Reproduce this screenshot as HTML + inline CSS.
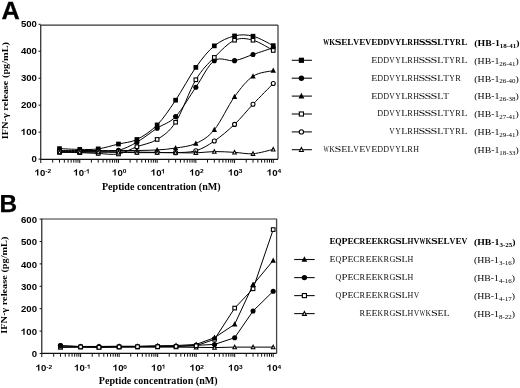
<!DOCTYPE html><html><head><meta charset="utf-8"><style>html,body{margin:0;padding:0;background:#fff}svg{display:block;will-change:transform}</style></head><body>
<svg width="520" height="388" viewBox="0 0 520 388">
<rect width="520" height="388" fill="#fff"/>
<text transform="translate(1.5,18.6) scale(1.02,1)" font-family="Liberation Sans" font-weight="bold" text-rendering="geometricPrecision" font-size="24.8" stroke="#000" stroke-width="0.3">A</text>
<text transform="translate(-0.47,212.4) scale(1,1)" font-family="Liberation Sans" font-weight="bold" font-size="24.4" stroke="#000" stroke-width="0.25">B</text>
<path d="M40.75,25.1 H278" stroke="#333" stroke-width="1.2" fill="none"/>
<path d="M278,24.9 V159.35" stroke="#444" stroke-width="1.3" fill="none"/>
<path d="M40.75,24.9 V159.35 H278" stroke="#111" stroke-width="1.1" fill="none"/>
<path d="M38.55,159.1 H40.75" stroke="#111" stroke-width="1"/>
<text transform="translate(31.61,161.97) scale(1,0.95)" font-family="Liberation Sans" font-weight="bold" font-size="9.6" fill="#000">0</text>
<path d="M38.55,132.14 H40.75" stroke="#111" stroke-width="1"/>
<path transform="translate(20.94,135.01) scale(9.6,-9.12)" d="M0.378,0 L0.244,0 L0.244,0.504 C0.195,0.459 0.122,0.420 0.047,0.396 L0.047,0.517 C0.088,0.530 0.132,0.553 0.181,0.586 C0.230,0.620 0.264,0.652 0.283,0.688 L0.378,0.688 Z" fill="#000"/><text transform="translate(26.27,135.01) scale(1,0.95)" font-family="Liberation Sans" font-weight="bold" font-size="9.6" fill="#000">00</text>
<path d="M38.55,105.18 H40.75" stroke="#111" stroke-width="1"/>
<text transform="translate(20.94,108.05) scale(1,0.95)" font-family="Liberation Sans" font-weight="bold" font-size="9.6" fill="#000">200</text>
<path d="M38.55,78.22 H40.75" stroke="#111" stroke-width="1"/>
<text transform="translate(20.94,81.09) scale(1,0.95)" font-family="Liberation Sans" font-weight="bold" font-size="9.6" fill="#000">300</text>
<path d="M38.55,51.26 H40.75" stroke="#111" stroke-width="1"/>
<text transform="translate(20.94,54.13) scale(1,0.95)" font-family="Liberation Sans" font-weight="bold" font-size="9.6" fill="#000">400</text>
<path d="M38.55,24.3 H40.75" stroke="#111" stroke-width="1"/>
<text transform="translate(20.94,27.17) scale(1,0.95)" font-family="Liberation Sans" font-weight="bold" font-size="9.6" fill="#000">500</text>
<path d="M40.75,159.35 V163.05" stroke="#111" stroke-width="1"/>
<path d="M52.7,159.35 V162.65" stroke="#111" stroke-width="1"/>
<path d="M59.51,159.35 V162.65" stroke="#111" stroke-width="1"/>
<path d="M64.35,159.35 V162.65" stroke="#111" stroke-width="1"/>
<path d="M68.1,159.35 V162.65" stroke="#111" stroke-width="1"/>
<path d="M71.16,159.35 V162.65" stroke="#111" stroke-width="1"/>
<path d="M73.76,159.35 V162.65" stroke="#111" stroke-width="1"/>
<path d="M76,159.35 V162.65" stroke="#111" stroke-width="1"/>
<path d="M77.98,159.35 V162.65" stroke="#111" stroke-width="1"/>
<path d="M79.75,159.35 V163.05" stroke="#111" stroke-width="1"/>
<path d="M91.4,159.35 V162.65" stroke="#111" stroke-width="1"/>
<path d="M98.21,159.35 V162.65" stroke="#111" stroke-width="1"/>
<path d="M103.05,159.35 V162.65" stroke="#111" stroke-width="1"/>
<path d="M106.8,159.35 V162.65" stroke="#111" stroke-width="1"/>
<path d="M109.86,159.35 V162.65" stroke="#111" stroke-width="1"/>
<path d="M112.46,159.35 V162.65" stroke="#111" stroke-width="1"/>
<path d="M114.7,159.35 V162.65" stroke="#111" stroke-width="1"/>
<path d="M116.68,159.35 V162.65" stroke="#111" stroke-width="1"/>
<path d="M118.45,159.35 V163.05" stroke="#111" stroke-width="1"/>
<path d="M130.1,159.35 V162.65" stroke="#111" stroke-width="1"/>
<path d="M136.91,159.35 V162.65" stroke="#111" stroke-width="1"/>
<path d="M141.75,159.35 V162.65" stroke="#111" stroke-width="1"/>
<path d="M145.5,159.35 V162.65" stroke="#111" stroke-width="1"/>
<path d="M148.56,159.35 V162.65" stroke="#111" stroke-width="1"/>
<path d="M151.16,159.35 V162.65" stroke="#111" stroke-width="1"/>
<path d="M153.4,159.35 V162.65" stroke="#111" stroke-width="1"/>
<path d="M155.38,159.35 V162.65" stroke="#111" stroke-width="1"/>
<path d="M157.15,159.35 V163.05" stroke="#111" stroke-width="1"/>
<path d="M168.8,159.35 V162.65" stroke="#111" stroke-width="1"/>
<path d="M175.61,159.35 V162.65" stroke="#111" stroke-width="1"/>
<path d="M180.45,159.35 V162.65" stroke="#111" stroke-width="1"/>
<path d="M184.2,159.35 V162.65" stroke="#111" stroke-width="1"/>
<path d="M187.26,159.35 V162.65" stroke="#111" stroke-width="1"/>
<path d="M189.86,159.35 V162.65" stroke="#111" stroke-width="1"/>
<path d="M192.1,159.35 V162.65" stroke="#111" stroke-width="1"/>
<path d="M194.08,159.35 V162.65" stroke="#111" stroke-width="1"/>
<path d="M195.85,159.35 V163.05" stroke="#111" stroke-width="1"/>
<path d="M207.5,159.35 V162.65" stroke="#111" stroke-width="1"/>
<path d="M214.31,159.35 V162.65" stroke="#111" stroke-width="1"/>
<path d="M219.15,159.35 V162.65" stroke="#111" stroke-width="1"/>
<path d="M222.9,159.35 V162.65" stroke="#111" stroke-width="1"/>
<path d="M225.96,159.35 V162.65" stroke="#111" stroke-width="1"/>
<path d="M228.56,159.35 V162.65" stroke="#111" stroke-width="1"/>
<path d="M230.8,159.35 V162.65" stroke="#111" stroke-width="1"/>
<path d="M232.78,159.35 V162.65" stroke="#111" stroke-width="1"/>
<path d="M234.55,159.35 V163.05" stroke="#111" stroke-width="1"/>
<path d="M246.2,159.35 V162.65" stroke="#111" stroke-width="1"/>
<path d="M253.01,159.35 V162.65" stroke="#111" stroke-width="1"/>
<path d="M257.85,159.35 V162.65" stroke="#111" stroke-width="1"/>
<path d="M261.6,159.35 V162.65" stroke="#111" stroke-width="1"/>
<path d="M264.66,159.35 V162.65" stroke="#111" stroke-width="1"/>
<path d="M267.26,159.35 V162.65" stroke="#111" stroke-width="1"/>
<path d="M269.5,159.35 V162.65" stroke="#111" stroke-width="1"/>
<path d="M271.48,159.35 V162.65" stroke="#111" stroke-width="1"/>
<path d="M273.25,159.35 V163.05" stroke="#111" stroke-width="1"/>
<path transform="translate(34.71,175.5) scale(9.6,-9.12)" d="M0.378,0 L0.244,0 L0.244,0.504 C0.195,0.459 0.122,0.420 0.047,0.396 L0.047,0.517 C0.088,0.530 0.132,0.553 0.181,0.586 C0.230,0.620 0.264,0.652 0.283,0.688 L0.378,0.688 Z" fill="#000"/><text transform="translate(40.05,175.5) scale(1,0.95)" font-family="Liberation Sans" font-weight="bold" font-size="9.6" fill="#000">0</text><text transform="translate(45.25,173.4) scale(1,0.95)" font-family="Liberation Sans" font-weight="bold" font-size="6.6" fill="#000">-2</text>
<path transform="translate(73.41,175.5) scale(9.6,-9.12)" d="M0.378,0 L0.244,0 L0.244,0.504 C0.195,0.459 0.122,0.420 0.047,0.396 L0.047,0.517 C0.088,0.530 0.132,0.553 0.181,0.586 C0.230,0.620 0.264,0.652 0.283,0.688 L0.378,0.688 Z" fill="#000"/><text transform="translate(78.75,175.5) scale(1,0.95)" font-family="Liberation Sans" font-weight="bold" font-size="9.6" fill="#000">0</text><text transform="translate(83.95,173.4) scale(1,0.95)" font-family="Liberation Sans" font-weight="bold" font-size="6.6" fill="#000">-</text><path transform="translate(86.15,173.4) scale(6.6,-6.27)" d="M0.378,0 L0.244,0 L0.244,0.504 C0.195,0.459 0.122,0.420 0.047,0.396 L0.047,0.517 C0.088,0.530 0.132,0.553 0.181,0.586 C0.230,0.620 0.264,0.652 0.283,0.688 L0.378,0.688 Z" fill="#000"/>
<path transform="translate(112.11,175.5) scale(9.6,-9.12)" d="M0.378,0 L0.244,0 L0.244,0.504 C0.195,0.459 0.122,0.420 0.047,0.396 L0.047,0.517 C0.088,0.530 0.132,0.553 0.181,0.586 C0.230,0.620 0.264,0.652 0.283,0.688 L0.378,0.688 Z" fill="#000"/><text transform="translate(117.45,175.5) scale(1,0.95)" font-family="Liberation Sans" font-weight="bold" font-size="9.6" fill="#000">0</text><text transform="translate(122.65,173.4) scale(1,0.95)" font-family="Liberation Sans" font-weight="bold" font-size="6.6" fill="#000">0</text>
<path transform="translate(150.81,175.5) scale(9.6,-9.12)" d="M0.378,0 L0.244,0 L0.244,0.504 C0.195,0.459 0.122,0.420 0.047,0.396 L0.047,0.517 C0.088,0.530 0.132,0.553 0.181,0.586 C0.230,0.620 0.264,0.652 0.283,0.688 L0.378,0.688 Z" fill="#000"/><text transform="translate(156.15,175.5) scale(1,0.95)" font-family="Liberation Sans" font-weight="bold" font-size="9.6" fill="#000">0</text><path transform="translate(161.35,173.4) scale(6.6,-6.27)" d="M0.378,0 L0.244,0 L0.244,0.504 C0.195,0.459 0.122,0.420 0.047,0.396 L0.047,0.517 C0.088,0.530 0.132,0.553 0.181,0.586 C0.230,0.620 0.264,0.652 0.283,0.688 L0.378,0.688 Z" fill="#000"/>
<path transform="translate(189.51,175.5) scale(9.6,-9.12)" d="M0.378,0 L0.244,0 L0.244,0.504 C0.195,0.459 0.122,0.420 0.047,0.396 L0.047,0.517 C0.088,0.530 0.132,0.553 0.181,0.586 C0.230,0.620 0.264,0.652 0.283,0.688 L0.378,0.688 Z" fill="#000"/><text transform="translate(194.85,175.5) scale(1,0.95)" font-family="Liberation Sans" font-weight="bold" font-size="9.6" fill="#000">0</text><text transform="translate(200.05,173.4) scale(1,0.95)" font-family="Liberation Sans" font-weight="bold" font-size="6.6" fill="#000">2</text>
<path transform="translate(228.21,175.5) scale(9.6,-9.12)" d="M0.378,0 L0.244,0 L0.244,0.504 C0.195,0.459 0.122,0.420 0.047,0.396 L0.047,0.517 C0.088,0.530 0.132,0.553 0.181,0.586 C0.230,0.620 0.264,0.652 0.283,0.688 L0.378,0.688 Z" fill="#000"/><text transform="translate(233.55,175.5) scale(1,0.95)" font-family="Liberation Sans" font-weight="bold" font-size="9.6" fill="#000">0</text><text transform="translate(238.75,173.4) scale(1,0.95)" font-family="Liberation Sans" font-weight="bold" font-size="6.6" fill="#000">3</text>
<path transform="translate(266.91,175.5) scale(9.6,-9.12)" d="M0.378,0 L0.244,0 L0.244,0.504 C0.195,0.459 0.122,0.420 0.047,0.396 L0.047,0.517 C0.088,0.530 0.132,0.553 0.181,0.586 C0.230,0.620 0.264,0.652 0.283,0.688 L0.378,0.688 Z" fill="#000"/><text transform="translate(272.25,175.5) scale(1,0.95)" font-family="Liberation Sans" font-weight="bold" font-size="9.6" fill="#000">0</text><text transform="translate(277.45,173.4) scale(1,0.95)" font-family="Liberation Sans" font-weight="bold" font-size="6.6" fill="#000">4</text>
<text transform="translate(161.3,190) scale(1,0.95)" font-family="Liberation Serif" font-weight="bold" font-size="10.1" text-anchor="middle">Peptide concentration (nM)</text>
<text transform="translate(8,90.6) rotate(-90) scale(1,0.9)" font-family="Liberation Serif" font-weight="bold" font-size="10.3" text-anchor="middle">IFN-&#947; release (pg/mL)</text>
<path d="M59.51,148.59 C62.89,148.73 73.3,149.36 79.75,149.4 C86.2,149.45 91.76,149.76 98.21,148.86 C104.66,147.97 112,145.59 118.45,144.02 C124.9,142.45 130.46,142.63 136.91,139.45 C143.36,136.27 150.7,131.47 157.15,124.93 C163.6,118.39 169.16,109.78 175.61,100.19 C182.06,90.6 189.4,76.44 195.85,67.39 C202.3,58.33 207.86,51.12 214.31,45.87 C220.76,40.63 228.1,37.54 234.55,35.92 C241,34.31 246.56,34.58 253.01,36.19 C259.46,37.81 269.88,44.04 273.25,45.61" stroke="#000" stroke-width="1.0" fill="none"/>
<path d="M59.51,150.48 C62.89,150.48 73.3,150.48 79.75,150.48 C86.2,150.48 91.76,150.52 98.21,150.48 C104.66,150.43 112,151.6 118.45,150.21 C124.9,148.82 130.46,145.82 136.91,142.14 C143.36,138.47 150.7,132.42 157.15,128.16 C163.6,123.9 169.16,123.41 175.61,116.59 C182.06,109.78 189.4,96.61 195.85,87.28 C202.3,77.96 207.86,65.1 214.31,60.66 C220.76,56.23 228.1,61.69 234.55,60.66 C241,59.63 246.56,56.63 253.01,54.48 C259.46,52.33 269.88,48.88 273.25,47.76" stroke="#000" stroke-width="1.0" fill="none"/>
<path d="M59.51,151.28 C62.89,151.28 73.3,151.33 79.75,151.28 C86.2,151.24 91.76,151.15 98.21,151.01 C104.66,150.88 112,150.57 118.45,150.48 C124.9,150.39 130.46,150.57 136.91,150.48 C143.36,150.39 150.7,150.34 157.15,149.94 C163.6,149.54 169.16,149.13 175.61,148.06 C182.06,146.98 189.4,146.53 195.85,143.48 C202.3,140.44 207.86,137.57 214.31,129.77 C220.76,121.97 228.1,105.61 234.55,96.7 C241,87.78 246.56,80.61 253.01,76.26 C259.46,71.91 269.88,71.55 273.25,70.61" stroke="#000" stroke-width="1.0" fill="none"/>
<path d="M59.51,152.36 C62.89,152.4 73.3,152.45 79.75,152.63 C86.2,152.81 91.76,153.21 98.21,153.43 C104.66,153.66 112,155.09 118.45,153.97 C124.9,152.85 130.46,149.13 136.91,146.71 C143.36,144.29 150.7,143.53 157.15,139.45 C163.6,135.37 169.16,132.19 175.61,122.24 C182.06,112.29 189.4,90.56 195.85,79.76 C202.3,68.95 207.86,64.02 214.31,57.44 C220.76,50.85 228.1,43.1 234.55,40.23 C241,37.36 246.56,38.52 253.01,40.23 C259.46,41.93 269.88,48.74 273.25,50.45" stroke="#000" stroke-width="1.0" fill="none"/>
<path d="M59.51,151.82 C62.89,151.82 73.3,151.82 79.75,151.82 C86.2,151.82 91.76,151.82 98.21,151.82 C104.66,151.82 112,151.78 118.45,151.82 C124.9,151.87 130.46,152 136.91,152.09 C143.36,152.18 150.7,152.27 157.15,152.36 C163.6,152.45 169.16,152.9 175.61,152.63 C182.06,152.36 189.4,152.67 195.85,150.75 C202.3,148.82 207.86,145.46 214.31,141.06 C220.76,136.67 228.1,130.53 234.55,124.39 C241,118.25 246.56,111.04 253.01,104.23 C259.46,97.41 269.88,86.97 273.25,83.52" stroke="#000" stroke-width="1.0" fill="none"/>
<path d="M59.51,152.09 C62.89,152.09 73.3,152.09 79.75,152.09 C86.2,152.09 91.76,152.04 98.21,152.09 C104.66,152.13 112,152.27 118.45,152.36 C124.9,152.45 130.46,152.58 136.91,152.63 C143.36,152.67 150.7,152.63 157.15,152.63 C163.6,152.63 169.16,152.58 175.61,152.63 C182.06,152.67 189.4,153.08 195.85,152.9 C202.3,152.72 207.86,151.64 214.31,151.55 C220.76,151.46 228.1,152 234.55,152.36 C241,152.72 246.56,154.2 253.01,153.7 C259.46,153.21 269.88,150.12 273.25,149.4" stroke="#000" stroke-width="1.0" fill="none"/>
<rect x="57.16" y="146.24" width="4.7" height="4.7" fill="#000"/>
<rect x="77.4" y="147.05" width="4.7" height="4.7" fill="#000"/>
<rect x="95.86" y="146.51" width="4.7" height="4.7" fill="#000"/>
<rect x="116.1" y="141.67" width="4.7" height="4.7" fill="#000"/>
<rect x="134.56" y="137.1" width="4.7" height="4.7" fill="#000"/>
<rect x="154.8" y="122.58" width="4.7" height="4.7" fill="#000"/>
<rect x="173.26" y="97.84" width="4.7" height="4.7" fill="#000"/>
<rect x="193.5" y="65.04" width="4.7" height="4.7" fill="#000"/>
<rect x="211.96" y="43.52" width="4.7" height="4.7" fill="#000"/>
<rect x="232.2" y="33.57" width="4.7" height="4.7" fill="#000"/>
<rect x="250.66" y="33.84" width="4.7" height="4.7" fill="#000"/>
<rect x="270.9" y="43.26" width="4.7" height="4.7" fill="#000"/>
<circle cx="59.51" cy="150.48" r="2.55" fill="#000"/>
<circle cx="79.75" cy="150.48" r="2.55" fill="#000"/>
<circle cx="98.21" cy="150.48" r="2.55" fill="#000"/>
<circle cx="118.45" cy="150.21" r="2.55" fill="#000"/>
<circle cx="136.91" cy="142.14" r="2.55" fill="#000"/>
<circle cx="157.15" cy="128.16" r="2.55" fill="#000"/>
<circle cx="175.61" cy="116.59" r="2.55" fill="#000"/>
<circle cx="195.85" cy="87.28" r="2.55" fill="#000"/>
<circle cx="214.31" cy="60.66" r="2.55" fill="#000"/>
<circle cx="234.55" cy="60.66" r="2.55" fill="#000"/>
<circle cx="253.01" cy="54.48" r="2.55" fill="#000"/>
<circle cx="273.25" cy="47.76" r="2.55" fill="#000"/>
<path d="M59.51,148.27 L62.21,153.47 L56.81,153.47 Z" fill="#000"/>
<path d="M79.75,148.27 L82.45,153.47 L77.05,153.47 Z" fill="#000"/>
<path d="M98.21,148 L100.91,153.2 L95.51,153.2 Z" fill="#000"/>
<path d="M118.45,147.46 L121.15,152.66 L115.75,152.66 Z" fill="#000"/>
<path d="M136.91,147.46 L139.61,152.66 L134.21,152.66 Z" fill="#000"/>
<path d="M157.15,146.92 L159.85,152.12 L154.45,152.12 Z" fill="#000"/>
<path d="M175.61,145.04 L178.31,150.24 L172.91,150.24 Z" fill="#000"/>
<path d="M195.85,140.47 L198.55,145.67 L193.15,145.67 Z" fill="#000"/>
<path d="M214.31,126.75 L217.01,131.95 L211.61,131.95 Z" fill="#000"/>
<path d="M234.55,93.68 L237.25,98.88 L231.85,98.88 Z" fill="#000"/>
<path d="M253.01,73.24 L255.71,78.44 L250.31,78.44 Z" fill="#000"/>
<path d="M273.25,67.6 L275.95,72.8 L270.55,72.8 Z" fill="#000"/>
<rect x="57.71" y="150.56" width="3.6" height="3.6" fill="#fff" stroke="#000" stroke-width="1.1"/>
<rect x="77.95" y="150.83" width="3.6" height="3.6" fill="#fff" stroke="#000" stroke-width="1.1"/>
<rect x="96.41" y="151.63" width="3.6" height="3.6" fill="#fff" stroke="#000" stroke-width="1.1"/>
<rect x="116.65" y="152.17" width="3.6" height="3.6" fill="#fff" stroke="#000" stroke-width="1.1"/>
<rect x="135.11" y="144.91" width="3.6" height="3.6" fill="#fff" stroke="#000" stroke-width="1.1"/>
<rect x="155.35" y="137.65" width="3.6" height="3.6" fill="#fff" stroke="#000" stroke-width="1.1"/>
<rect x="173.81" y="120.44" width="3.6" height="3.6" fill="#fff" stroke="#000" stroke-width="1.1"/>
<rect x="194.05" y="77.96" width="3.6" height="3.6" fill="#fff" stroke="#000" stroke-width="1.1"/>
<rect x="212.51" y="55.64" width="3.6" height="3.6" fill="#fff" stroke="#000" stroke-width="1.1"/>
<rect x="232.75" y="38.43" width="3.6" height="3.6" fill="#fff" stroke="#000" stroke-width="1.1"/>
<rect x="251.21" y="38.43" width="3.6" height="3.6" fill="#fff" stroke="#000" stroke-width="1.1"/>
<rect x="271.45" y="48.65" width="3.6" height="3.6" fill="#fff" stroke="#000" stroke-width="1.1"/>
<circle cx="59.51" cy="151.82" r="2" fill="#fff" stroke="#000" stroke-width="1.1"/>
<circle cx="79.75" cy="151.82" r="2" fill="#fff" stroke="#000" stroke-width="1.1"/>
<circle cx="98.21" cy="151.82" r="2" fill="#fff" stroke="#000" stroke-width="1.1"/>
<circle cx="118.45" cy="151.82" r="2" fill="#fff" stroke="#000" stroke-width="1.1"/>
<circle cx="136.91" cy="152.09" r="2" fill="#fff" stroke="#000" stroke-width="1.1"/>
<circle cx="157.15" cy="152.36" r="2" fill="#fff" stroke="#000" stroke-width="1.1"/>
<circle cx="175.61" cy="152.63" r="2" fill="#fff" stroke="#000" stroke-width="1.1"/>
<circle cx="195.85" cy="150.75" r="2" fill="#fff" stroke="#000" stroke-width="1.1"/>
<circle cx="214.31" cy="141.06" r="2" fill="#fff" stroke="#000" stroke-width="1.1"/>
<circle cx="234.55" cy="124.39" r="2" fill="#fff" stroke="#000" stroke-width="1.1"/>
<circle cx="253.01" cy="104.23" r="2" fill="#fff" stroke="#000" stroke-width="1.1"/>
<circle cx="273.25" cy="83.52" r="2" fill="#fff" stroke="#000" stroke-width="1.1"/>
<path d="M59.51,150.17 L61.28,153.72 L57.75,153.72 Z" fill="#fff" stroke="#000" stroke-width="1.1"/>
<path d="M79.75,150.17 L81.52,153.72 L77.98,153.72 Z" fill="#fff" stroke="#000" stroke-width="1.1"/>
<path d="M98.21,150.17 L99.98,153.72 L96.45,153.72 Z" fill="#fff" stroke="#000" stroke-width="1.1"/>
<path d="M118.45,150.44 L120.21,153.99 L116.68,153.99 Z" fill="#fff" stroke="#000" stroke-width="1.1"/>
<path d="M136.91,150.71 L138.68,154.26 L135.15,154.26 Z" fill="#fff" stroke="#000" stroke-width="1.1"/>
<path d="M157.15,150.71 L158.91,154.26 L155.38,154.26 Z" fill="#fff" stroke="#000" stroke-width="1.1"/>
<path d="M175.61,150.71 L177.38,154.26 L173.85,154.26 Z" fill="#fff" stroke="#000" stroke-width="1.1"/>
<path d="M195.85,150.98 L197.61,154.53 L194.08,154.53 Z" fill="#fff" stroke="#000" stroke-width="1.1"/>
<path d="M214.31,149.64 L216.08,153.19 L212.55,153.19 Z" fill="#fff" stroke="#000" stroke-width="1.1"/>
<path d="M234.55,150.44 L236.31,153.99 L232.78,153.99 Z" fill="#fff" stroke="#000" stroke-width="1.1"/>
<path d="M253.01,151.79 L254.78,155.34 L251.25,155.34 Z" fill="#fff" stroke="#000" stroke-width="1.1"/>
<path d="M273.25,147.48 L275.01,151.03 L271.49,151.03 Z" fill="#fff" stroke="#000" stroke-width="1.1"/>
<path d="M41.8,219 H276.6" stroke="#333" stroke-width="1.2" fill="none"/>
<path d="M276.6,218.8 V353.4" stroke="#444" stroke-width="1.3" fill="none"/>
<path d="M41.8,218.8 V353.4 H276.6" stroke="#111" stroke-width="1.1" fill="none"/>
<path d="M39.6,353.48 H41.8" stroke="#111" stroke-width="1"/>
<text transform="translate(31.66,357.2) scale(1,0.95)" font-family="Liberation Sans" font-weight="bold" font-size="9.6" fill="#000">0</text>
<path d="M39.6,331.08 H41.8" stroke="#111" stroke-width="1"/>
<path transform="translate(20.99,334.8) scale(9.6,-9.12)" d="M0.378,0 L0.244,0 L0.244,0.504 C0.195,0.459 0.122,0.420 0.047,0.396 L0.047,0.517 C0.088,0.530 0.132,0.553 0.181,0.586 C0.230,0.620 0.264,0.652 0.283,0.688 L0.378,0.688 Z" fill="#000"/><text transform="translate(26.32,334.8) scale(1,0.95)" font-family="Liberation Sans" font-weight="bold" font-size="9.6" fill="#000">00</text>
<path d="M39.6,308.69 H41.8" stroke="#111" stroke-width="1"/>
<text transform="translate(20.99,312.41) scale(1,0.95)" font-family="Liberation Sans" font-weight="bold" font-size="9.6" fill="#000">200</text>
<path d="M39.6,286.29 H41.8" stroke="#111" stroke-width="1"/>
<text transform="translate(20.99,290.01) scale(1,0.95)" font-family="Liberation Sans" font-weight="bold" font-size="9.6" fill="#000">300</text>
<path d="M39.6,263.89 H41.8" stroke="#111" stroke-width="1"/>
<text transform="translate(20.99,267.61) scale(1,0.95)" font-family="Liberation Sans" font-weight="bold" font-size="9.6" fill="#000">400</text>
<path d="M39.6,241.5 H41.8" stroke="#111" stroke-width="1"/>
<text transform="translate(20.99,245.22) scale(1,0.95)" font-family="Liberation Sans" font-weight="bold" font-size="9.6" fill="#000">500</text>
<path d="M39.6,219.1 H41.8" stroke="#111" stroke-width="1"/>
<text transform="translate(20.99,222.82) scale(1,0.95)" font-family="Liberation Sans" font-weight="bold" font-size="9.6" fill="#000">600</text>
<path d="M41.8,353.4 V357.1" stroke="#111" stroke-width="1"/>
<path d="M53.69,353.4 V356.7" stroke="#111" stroke-width="1"/>
<path d="M60.48,353.4 V356.7" stroke="#111" stroke-width="1"/>
<path d="M65.29,353.4 V356.7" stroke="#111" stroke-width="1"/>
<path d="M69.02,353.4 V356.7" stroke="#111" stroke-width="1"/>
<path d="M72.07,353.4 V356.7" stroke="#111" stroke-width="1"/>
<path d="M74.65,353.4 V356.7" stroke="#111" stroke-width="1"/>
<path d="M76.88,353.4 V356.7" stroke="#111" stroke-width="1"/>
<path d="M78.85,353.4 V356.7" stroke="#111" stroke-width="1"/>
<path d="M80.62,353.4 V357.1" stroke="#111" stroke-width="1"/>
<path d="M92.21,353.4 V356.7" stroke="#111" stroke-width="1"/>
<path d="M98.99,353.4 V356.7" stroke="#111" stroke-width="1"/>
<path d="M103.81,353.4 V356.7" stroke="#111" stroke-width="1"/>
<path d="M107.54,353.4 V356.7" stroke="#111" stroke-width="1"/>
<path d="M110.59,353.4 V356.7" stroke="#111" stroke-width="1"/>
<path d="M113.17,353.4 V356.7" stroke="#111" stroke-width="1"/>
<path d="M115.4,353.4 V356.7" stroke="#111" stroke-width="1"/>
<path d="M117.37,353.4 V356.7" stroke="#111" stroke-width="1"/>
<path d="M119.13,353.4 V357.1" stroke="#111" stroke-width="1"/>
<path d="M130.73,353.4 V356.7" stroke="#111" stroke-width="1"/>
<path d="M137.51,353.4 V356.7" stroke="#111" stroke-width="1"/>
<path d="M142.32,353.4 V356.7" stroke="#111" stroke-width="1"/>
<path d="M146.06,353.4 V356.7" stroke="#111" stroke-width="1"/>
<path d="M149.11,353.4 V356.7" stroke="#111" stroke-width="1"/>
<path d="M151.68,353.4 V356.7" stroke="#111" stroke-width="1"/>
<path d="M153.92,353.4 V356.7" stroke="#111" stroke-width="1"/>
<path d="M155.89,353.4 V356.7" stroke="#111" stroke-width="1"/>
<path d="M157.65,353.4 V357.1" stroke="#111" stroke-width="1"/>
<path d="M169.24,353.4 V356.7" stroke="#111" stroke-width="1"/>
<path d="M176.03,353.4 V356.7" stroke="#111" stroke-width="1"/>
<path d="M180.84,353.4 V356.7" stroke="#111" stroke-width="1"/>
<path d="M184.57,353.4 V356.7" stroke="#111" stroke-width="1"/>
<path d="M187.62,353.4 V356.7" stroke="#111" stroke-width="1"/>
<path d="M190.2,353.4 V356.7" stroke="#111" stroke-width="1"/>
<path d="M192.43,353.4 V356.7" stroke="#111" stroke-width="1"/>
<path d="M194.4,353.4 V356.7" stroke="#111" stroke-width="1"/>
<path d="M196.17,353.4 V357.1" stroke="#111" stroke-width="1"/>
<path d="M207.76,353.4 V356.7" stroke="#111" stroke-width="1"/>
<path d="M214.54,353.4 V356.7" stroke="#111" stroke-width="1"/>
<path d="M219.36,353.4 V356.7" stroke="#111" stroke-width="1"/>
<path d="M223.09,353.4 V356.7" stroke="#111" stroke-width="1"/>
<path d="M226.14,353.4 V356.7" stroke="#111" stroke-width="1"/>
<path d="M228.72,353.4 V356.7" stroke="#111" stroke-width="1"/>
<path d="M230.95,353.4 V356.7" stroke="#111" stroke-width="1"/>
<path d="M232.92,353.4 V356.7" stroke="#111" stroke-width="1"/>
<path d="M234.68,353.4 V357.1" stroke="#111" stroke-width="1"/>
<path d="M246.28,353.4 V356.7" stroke="#111" stroke-width="1"/>
<path d="M253.06,353.4 V356.7" stroke="#111" stroke-width="1"/>
<path d="M257.87,353.4 V356.7" stroke="#111" stroke-width="1"/>
<path d="M261.61,353.4 V356.7" stroke="#111" stroke-width="1"/>
<path d="M264.66,353.4 V356.7" stroke="#111" stroke-width="1"/>
<path d="M267.23,353.4 V356.7" stroke="#111" stroke-width="1"/>
<path d="M269.47,353.4 V356.7" stroke="#111" stroke-width="1"/>
<path d="M271.44,353.4 V356.7" stroke="#111" stroke-width="1"/>
<path d="M273.2,353.4 V357.1" stroke="#111" stroke-width="1"/>
<path transform="translate(35.76,370.8) scale(9.6,-9.12)" d="M0.378,0 L0.244,0 L0.244,0.504 C0.195,0.459 0.122,0.420 0.047,0.396 L0.047,0.517 C0.088,0.530 0.132,0.553 0.181,0.586 C0.230,0.620 0.264,0.652 0.283,0.688 L0.378,0.688 Z" fill="#000"/><text transform="translate(41.1,370.8) scale(1,0.95)" font-family="Liberation Sans" font-weight="bold" font-size="9.6" fill="#000">0</text><text transform="translate(46.3,368.7) scale(1,0.95)" font-family="Liberation Sans" font-weight="bold" font-size="6.6" fill="#000">-2</text>
<path transform="translate(74.28,370.8) scale(9.6,-9.12)" d="M0.378,0 L0.244,0 L0.244,0.504 C0.195,0.459 0.122,0.420 0.047,0.396 L0.047,0.517 C0.088,0.530 0.132,0.553 0.181,0.586 C0.230,0.620 0.264,0.652 0.283,0.688 L0.378,0.688 Z" fill="#000"/><text transform="translate(79.62,370.8) scale(1,0.95)" font-family="Liberation Sans" font-weight="bold" font-size="9.6" fill="#000">0</text><text transform="translate(84.82,368.7) scale(1,0.95)" font-family="Liberation Sans" font-weight="bold" font-size="6.6" fill="#000">-</text><path transform="translate(87.01,368.7) scale(6.6,-6.27)" d="M0.378,0 L0.244,0 L0.244,0.504 C0.195,0.459 0.122,0.420 0.047,0.396 L0.047,0.517 C0.088,0.530 0.132,0.553 0.181,0.586 C0.230,0.620 0.264,0.652 0.283,0.688 L0.378,0.688 Z" fill="#000"/>
<path transform="translate(112.8,370.8) scale(9.6,-9.12)" d="M0.378,0 L0.244,0 L0.244,0.504 C0.195,0.459 0.122,0.420 0.047,0.396 L0.047,0.517 C0.088,0.530 0.132,0.553 0.181,0.586 C0.230,0.620 0.264,0.652 0.283,0.688 L0.378,0.688 Z" fill="#000"/><text transform="translate(118.13,370.8) scale(1,0.95)" font-family="Liberation Sans" font-weight="bold" font-size="9.6" fill="#000">0</text><text transform="translate(123.33,368.7) scale(1,0.95)" font-family="Liberation Sans" font-weight="bold" font-size="6.6" fill="#000">0</text>
<path transform="translate(151.31,370.8) scale(9.6,-9.12)" d="M0.378,0 L0.244,0 L0.244,0.504 C0.195,0.459 0.122,0.420 0.047,0.396 L0.047,0.517 C0.088,0.530 0.132,0.553 0.181,0.586 C0.230,0.620 0.264,0.652 0.283,0.688 L0.378,0.688 Z" fill="#000"/><text transform="translate(156.65,370.8) scale(1,0.95)" font-family="Liberation Sans" font-weight="bold" font-size="9.6" fill="#000">0</text><path transform="translate(161.85,368.7) scale(6.6,-6.27)" d="M0.378,0 L0.244,0 L0.244,0.504 C0.195,0.459 0.122,0.420 0.047,0.396 L0.047,0.517 C0.088,0.530 0.132,0.553 0.181,0.586 C0.230,0.620 0.264,0.652 0.283,0.688 L0.378,0.688 Z" fill="#000"/>
<path transform="translate(189.83,370.8) scale(9.6,-9.12)" d="M0.378,0 L0.244,0 L0.244,0.504 C0.195,0.459 0.122,0.420 0.047,0.396 L0.047,0.517 C0.088,0.530 0.132,0.553 0.181,0.586 C0.230,0.620 0.264,0.652 0.283,0.688 L0.378,0.688 Z" fill="#000"/><text transform="translate(195.17,370.8) scale(1,0.95)" font-family="Liberation Sans" font-weight="bold" font-size="9.6" fill="#000">0</text><text transform="translate(200.37,368.7) scale(1,0.95)" font-family="Liberation Sans" font-weight="bold" font-size="6.6" fill="#000">2</text>
<path transform="translate(228.35,370.8) scale(9.6,-9.12)" d="M0.378,0 L0.244,0 L0.244,0.504 C0.195,0.459 0.122,0.420 0.047,0.396 L0.047,0.517 C0.088,0.530 0.132,0.553 0.181,0.586 C0.230,0.620 0.264,0.652 0.283,0.688 L0.378,0.688 Z" fill="#000"/><text transform="translate(233.68,370.8) scale(1,0.95)" font-family="Liberation Sans" font-weight="bold" font-size="9.6" fill="#000">0</text><text transform="translate(238.88,368.7) scale(1,0.95)" font-family="Liberation Sans" font-weight="bold" font-size="6.6" fill="#000">3</text>
<path transform="translate(266.86,370.8) scale(9.6,-9.12)" d="M0.378,0 L0.244,0 L0.244,0.504 C0.195,0.459 0.122,0.420 0.047,0.396 L0.047,0.517 C0.088,0.530 0.132,0.553 0.181,0.586 C0.230,0.620 0.264,0.652 0.283,0.688 L0.378,0.688 Z" fill="#000"/><text transform="translate(272.2,370.8) scale(1,0.95)" font-family="Liberation Sans" font-weight="bold" font-size="9.6" fill="#000">0</text><text transform="translate(277.4,368.7) scale(1,0.95)" font-family="Liberation Sans" font-weight="bold" font-size="6.6" fill="#000">4</text>
<text transform="translate(158.2,384.4) scale(1,0.95)" font-family="Liberation Serif" font-weight="bold" font-size="10.1" text-anchor="middle">Peptide concentration (nM)</text>
<text transform="translate(7,285.2) rotate(-90) scale(1,0.9)" font-family="Liberation Serif" font-weight="bold" font-size="10.3" text-anchor="middle">IFN-&#947; release (pg/mL)</text>
<path d="M60.48,345.55 L80.62,346.67 L98.99,346.67 L119.13,346.67 L137.51,346.67 L157.65,346.22 L176.03,346.22 L196.17,345.32 L214.54,344.43 L234.68,337.7 L253.06,311 L273.2,291.26" stroke="#000" stroke-width="1.0" fill="none"/>
<path d="M60.48,346 L80.62,346.45 L98.99,346.45 L119.13,346.22 L137.51,346.22 L157.65,345.77 L176.03,345.55 L196.17,344.43 L214.54,337.7 L234.68,324.24 L253.06,284.75 L273.2,260.53" stroke="#000" stroke-width="1.0" fill="none"/>
<path d="M60.48,347.34 L80.62,347.12 L98.99,347.34 L119.13,347.12 L137.51,347.12 L157.65,347.12 L176.03,347.12 L196.17,347.34 L214.54,347.57 L234.68,347.12 L253.06,347.12 L273.2,347.12" stroke="#000" stroke-width="1.0" fill="none"/>
<path d="M60.48,347.12 L80.62,346.89 L98.99,347.34 L119.13,346.89 L137.51,346.67 L157.65,346.67 L176.03,346.45 L196.17,345.77 L214.54,339.27 L234.68,308.08 L253.06,288.79 L273.2,229.57" stroke="#000" stroke-width="1.0" fill="none"/>
<circle cx="60.48" cy="345.55" r="2.55" fill="#000"/>
<circle cx="80.62" cy="346.67" r="2.55" fill="#000"/>
<circle cx="98.99" cy="346.67" r="2.55" fill="#000"/>
<circle cx="119.13" cy="346.67" r="2.55" fill="#000"/>
<circle cx="137.51" cy="346.67" r="2.55" fill="#000"/>
<circle cx="157.65" cy="346.22" r="2.55" fill="#000"/>
<circle cx="176.03" cy="346.22" r="2.55" fill="#000"/>
<circle cx="196.17" cy="345.32" r="2.55" fill="#000"/>
<circle cx="214.54" cy="344.43" r="2.55" fill="#000"/>
<circle cx="234.68" cy="337.7" r="2.55" fill="#000"/>
<circle cx="253.06" cy="311" r="2.55" fill="#000"/>
<circle cx="273.2" cy="291.26" r="2.55" fill="#000"/>
<path d="M60.48,342.98 L63.18,348.18 L57.78,348.18 Z" fill="#000"/>
<path d="M80.62,343.43 L83.32,348.63 L77.92,348.63 Z" fill="#000"/>
<path d="M98.99,343.43 L101.69,348.63 L96.29,348.63 Z" fill="#000"/>
<path d="M119.13,343.21 L121.83,348.41 L116.43,348.41 Z" fill="#000"/>
<path d="M137.51,343.21 L140.21,348.41 L134.81,348.41 Z" fill="#000"/>
<path d="M157.65,342.76 L160.35,347.96 L154.95,347.96 Z" fill="#000"/>
<path d="M176.03,342.53 L178.73,347.73 L173.33,347.73 Z" fill="#000"/>
<path d="M196.17,341.41 L198.87,346.61 L193.47,346.61 Z" fill="#000"/>
<path d="M214.54,334.68 L217.24,339.88 L211.84,339.88 Z" fill="#000"/>
<path d="M234.68,321.22 L237.38,326.42 L231.98,326.42 Z" fill="#000"/>
<path d="M253.06,281.74 L255.76,286.94 L250.36,286.94 Z" fill="#000"/>
<path d="M273.2,257.51 L275.9,262.71 L270.5,262.71 Z" fill="#000"/>
<path d="M60.48,345.43 L62.24,348.98 L58.71,348.98 Z" fill="#fff" stroke="#000" stroke-width="1.1"/>
<path d="M80.62,345.2 L82.38,348.75 L78.85,348.75 Z" fill="#fff" stroke="#000" stroke-width="1.1"/>
<path d="M98.99,345.43 L100.76,348.98 L97.23,348.98 Z" fill="#fff" stroke="#000" stroke-width="1.1"/>
<path d="M119.13,345.2 L120.9,348.75 L117.37,348.75 Z" fill="#fff" stroke="#000" stroke-width="1.1"/>
<path d="M137.51,345.2 L139.28,348.75 L135.75,348.75 Z" fill="#fff" stroke="#000" stroke-width="1.1"/>
<path d="M157.65,345.2 L159.41,348.75 L155.88,348.75 Z" fill="#fff" stroke="#000" stroke-width="1.1"/>
<path d="M176.03,345.2 L177.79,348.75 L174.26,348.75 Z" fill="#fff" stroke="#000" stroke-width="1.1"/>
<path d="M196.17,345.43 L197.93,348.98 L194.4,348.98 Z" fill="#fff" stroke="#000" stroke-width="1.1"/>
<path d="M214.54,345.65 L216.31,349.2 L212.78,349.2 Z" fill="#fff" stroke="#000" stroke-width="1.1"/>
<path d="M234.68,345.2 L236.45,348.75 L232.92,348.75 Z" fill="#fff" stroke="#000" stroke-width="1.1"/>
<path d="M253.06,345.2 L254.83,348.75 L251.3,348.75 Z" fill="#fff" stroke="#000" stroke-width="1.1"/>
<path d="M273.2,345.2 L274.96,348.75 L271.43,348.75 Z" fill="#fff" stroke="#000" stroke-width="1.1"/>
<rect x="58.68" y="345.32" width="3.6" height="3.6" fill="#fff" stroke="#000" stroke-width="1.1"/>
<rect x="78.82" y="345.09" width="3.6" height="3.6" fill="#fff" stroke="#000" stroke-width="1.1"/>
<rect x="97.19" y="345.54" width="3.6" height="3.6" fill="#fff" stroke="#000" stroke-width="1.1"/>
<rect x="117.33" y="345.09" width="3.6" height="3.6" fill="#fff" stroke="#000" stroke-width="1.1"/>
<rect x="135.71" y="344.87" width="3.6" height="3.6" fill="#fff" stroke="#000" stroke-width="1.1"/>
<rect x="155.85" y="344.87" width="3.6" height="3.6" fill="#fff" stroke="#000" stroke-width="1.1"/>
<rect x="174.23" y="344.65" width="3.6" height="3.6" fill="#fff" stroke="#000" stroke-width="1.1"/>
<rect x="194.37" y="343.97" width="3.6" height="3.6" fill="#fff" stroke="#000" stroke-width="1.1"/>
<rect x="212.74" y="337.47" width="3.6" height="3.6" fill="#fff" stroke="#000" stroke-width="1.1"/>
<rect x="232.88" y="306.28" width="3.6" height="3.6" fill="#fff" stroke="#000" stroke-width="1.1"/>
<rect x="251.26" y="286.99" width="3.6" height="3.6" fill="#fff" stroke="#000" stroke-width="1.1"/>
<rect x="271.4" y="227.77" width="3.6" height="3.6" fill="#fff" stroke="#000" stroke-width="1.1"/>
<path d="M214.54,334.68 L217.24,339.88 L211.84,339.88 Z" fill="#000"/>
<circle cx="60.48" cy="345.55" r="2.55" fill="#000"/>
<path d="M253.06,281.74 L255.76,286.94 L250.36,286.94 Z" fill="#000"/>
<g font-family="Liberation Serif" font-weight="bold" font-size="8.8" fill="#000"><text transform="translate(323.22,44.8) scale(0.66,1)">W</text><text transform="translate(329.17,44.8) scale(0.85,1)">K</text><text transform="translate(334.65,44.8) scale(1.38,1)">S</text><text transform="translate(341.14,44.8) scale(1.06,1)">E</text><text transform="translate(347.14,44.8) scale(1.05,1)">L</text><text transform="translate(353.21,44.8) scale(0.91,1)">V</text><text transform="translate(359.14,44.8) scale(1.06,1)">E</text><text transform="translate(365.21,44.8) scale(0.91,1)">V</text><text transform="translate(371.14,44.8) scale(1.06,1)">E</text><text transform="translate(377.15,44.8) scale(0.97,1)">D</text><text transform="translate(383.15,44.8) scale(0.97,1)">D</text><text transform="translate(389.21,44.8) scale(0.91,1)">V</text><text transform="translate(395.16,44.8) scale(0.93,1)">Y</text><text transform="translate(401.14,44.8) scale(1.05,1)">L</text><text transform="translate(407.17,44.8) scale(0.89,1)">R</text><text transform="translate(413.17,44.8) scale(0.86,1)">H</text><text transform="translate(418.65,44.8) scale(1.38,1)">S</text><text transform="translate(424.65,44.8) scale(1.38,1)">S</text><text transform="translate(430.65,44.8) scale(1.38,1)">S</text><text transform="translate(437.14,44.8) scale(1.05,1)">L</text><text transform="translate(443.16,44.8) scale(1,1)">T</text><text transform="translate(449.16,44.8) scale(0.93,1)">Y</text><text transform="translate(455.17,44.8) scale(0.89,1)">R</text><text transform="translate(461.14,44.8) scale(1.05,1)">L</text></g>
<text transform="translate(474.3,45.7) scale(1,0.9)" font-family="Liberation Serif" font-weight="bold" font-size="9.8" fill="#000">(HB-1<tspan font-size="7" dy="2.2">18-41</tspan><tspan dy="-2.2">)</tspan></text>
<path d="M291.8,60.3 H311.9" stroke="#111" stroke-width="1.1"/>
<rect x="298.8" y="57.7" width="5.2" height="5.2" fill="#000"/>
<g font-family="Liberation Serif" font-size="8.6" fill="#111"><text transform="translate(371.16,62.7) scale(1.16,1)">E</text><text transform="translate(377.22,62.7) scale(0.94,1)">D</text><text transform="translate(383.22,62.7) scale(0.94,1)">D</text><text transform="translate(389.36,62.7) scale(0.88,1)">V</text><text transform="translate(395.36,62.7) scale(0.9,1)">Y</text><text transform="translate(401.16,62.7) scale(1.18,1)">L</text><text transform="translate(407.21,62.7) scale(0.97,1)">R</text><text transform="translate(413.22,62.7) scale(0.93,1)">H</text><text transform="translate(418.62,62.7) scale(1.44,1)">S</text><text transform="translate(424.62,62.7) scale(1.44,1)">S</text><text transform="translate(430.62,62.7) scale(1.44,1)">S</text><text transform="translate(437.16,62.7) scale(1.18,1)">L</text><text transform="translate(443.28,62.7) scale(1.07,1)">T</text><text transform="translate(449.36,62.7) scale(0.9,1)">Y</text><text transform="translate(455.21,62.7) scale(0.97,1)">R</text><text transform="translate(461.16,62.7) scale(1.18,1)">L</text></g>
<text transform="translate(474.3,63.6) scale(1,0.9)" font-family="Liberation Serif" font-weight="normal" font-size="9.8" fill="#000">(HB-1<tspan font-size="7" dy="2.2">26-41</tspan><tspan dy="-2.2">)</tspan></text>
<path d="M291.8,78.2 H311.9" stroke="#111" stroke-width="1.1"/>
<circle cx="301.4" cy="78.2" r="2.7" fill="#000"/>
<g font-family="Liberation Serif" font-size="8.6" fill="#111"><text transform="translate(371.16,80.6) scale(1.16,1)">E</text><text transform="translate(377.22,80.6) scale(0.94,1)">D</text><text transform="translate(383.22,80.6) scale(0.94,1)">D</text><text transform="translate(389.36,80.6) scale(0.88,1)">V</text><text transform="translate(395.36,80.6) scale(0.9,1)">Y</text><text transform="translate(401.16,80.6) scale(1.18,1)">L</text><text transform="translate(407.21,80.6) scale(0.97,1)">R</text><text transform="translate(413.22,80.6) scale(0.93,1)">H</text><text transform="translate(418.62,80.6) scale(1.44,1)">S</text><text transform="translate(424.62,80.6) scale(1.44,1)">S</text><text transform="translate(430.62,80.6) scale(1.44,1)">S</text><text transform="translate(437.16,80.6) scale(1.18,1)">L</text><text transform="translate(443.28,80.6) scale(1.07,1)">T</text><text transform="translate(449.36,80.6) scale(0.9,1)">Y</text><text transform="translate(455.21,80.6) scale(0.97,1)">R</text></g>
<text transform="translate(474.3,81.5) scale(1,0.9)" font-family="Liberation Serif" font-weight="normal" font-size="9.8" fill="#000">(HB-1<tspan font-size="7" dy="2.2">26-40</tspan><tspan dy="-2.2">)</tspan></text>
<path d="M291.8,96.1 H311.9" stroke="#111" stroke-width="1.1"/>
<path d="M301.4,92.85 L304.3,98.45 L298.5,98.45 Z" fill="#000"/>
<g font-family="Liberation Serif" font-size="8.6" fill="#111"><text transform="translate(371.16,98.5) scale(1.16,1)">E</text><text transform="translate(377.22,98.5) scale(0.94,1)">D</text><text transform="translate(383.22,98.5) scale(0.94,1)">D</text><text transform="translate(389.36,98.5) scale(0.88,1)">V</text><text transform="translate(395.36,98.5) scale(0.9,1)">Y</text><text transform="translate(401.16,98.5) scale(1.18,1)">L</text><text transform="translate(407.21,98.5) scale(0.97,1)">R</text><text transform="translate(413.22,98.5) scale(0.93,1)">H</text><text transform="translate(418.62,98.5) scale(1.44,1)">S</text><text transform="translate(424.62,98.5) scale(1.44,1)">S</text><text transform="translate(430.62,98.5) scale(1.44,1)">S</text><text transform="translate(437.16,98.5) scale(1.18,1)">L</text><text transform="translate(443.28,98.5) scale(1.07,1)">T</text></g>
<text transform="translate(474.3,99.4) scale(1,0.9)" font-family="Liberation Serif" font-weight="normal" font-size="9.8" fill="#000">(HB-1<tspan font-size="7" dy="2.2">26-38</tspan><tspan dy="-2.2">)</tspan></text>
<path d="M291.8,114 H311.9" stroke="#111" stroke-width="1.1"/>
<rect x="299.35" y="111.95" width="4.1" height="4.1" fill="#fff" stroke="#000" stroke-width="1.1"/>
<g font-family="Liberation Serif" font-size="8.6" fill="#111"><text transform="translate(377.22,116.4) scale(0.94,1)">D</text><text transform="translate(383.22,116.4) scale(0.94,1)">D</text><text transform="translate(389.36,116.4) scale(0.88,1)">V</text><text transform="translate(395.36,116.4) scale(0.9,1)">Y</text><text transform="translate(401.16,116.4) scale(1.18,1)">L</text><text transform="translate(407.21,116.4) scale(0.97,1)">R</text><text transform="translate(413.22,116.4) scale(0.93,1)">H</text><text transform="translate(418.62,116.4) scale(1.44,1)">S</text><text transform="translate(424.62,116.4) scale(1.44,1)">S</text><text transform="translate(430.62,116.4) scale(1.44,1)">S</text><text transform="translate(437.16,116.4) scale(1.18,1)">L</text><text transform="translate(443.28,116.4) scale(1.07,1)">T</text><text transform="translate(449.36,116.4) scale(0.9,1)">Y</text><text transform="translate(455.21,116.4) scale(0.97,1)">R</text><text transform="translate(461.16,116.4) scale(1.18,1)">L</text></g>
<text transform="translate(474.3,117.3) scale(1,0.9)" font-family="Liberation Serif" font-weight="normal" font-size="9.8" fill="#000">(HB-1<tspan font-size="7" dy="2.2">27-41</tspan><tspan dy="-2.2">)</tspan></text>
<path d="M291.8,131.9 H311.9" stroke="#111" stroke-width="1.1"/>
<circle cx="301.4" cy="131.9" r="2.15" fill="#fff" stroke="#000" stroke-width="1.1"/>
<g font-family="Liberation Serif" font-size="8.6" fill="#111"><text transform="translate(389.36,134.3) scale(0.88,1)">V</text><text transform="translate(395.36,134.3) scale(0.9,1)">Y</text><text transform="translate(401.16,134.3) scale(1.18,1)">L</text><text transform="translate(407.21,134.3) scale(0.97,1)">R</text><text transform="translate(413.22,134.3) scale(0.93,1)">H</text><text transform="translate(418.62,134.3) scale(1.44,1)">S</text><text transform="translate(424.62,134.3) scale(1.44,1)">S</text><text transform="translate(430.62,134.3) scale(1.44,1)">S</text><text transform="translate(437.16,134.3) scale(1.18,1)">L</text><text transform="translate(443.28,134.3) scale(1.07,1)">T</text><text transform="translate(449.36,134.3) scale(0.9,1)">Y</text><text transform="translate(455.21,134.3) scale(0.97,1)">R</text><text transform="translate(461.16,134.3) scale(1.18,1)">L</text></g>
<text transform="translate(474.3,135.2) scale(1,0.9)" font-family="Liberation Serif" font-weight="normal" font-size="9.8" fill="#000">(HB-1<tspan font-size="7" dy="2.2">29-41</tspan><tspan dy="-2.2">)</tspan></text>
<path d="M291.8,149.7 H311.9" stroke="#111" stroke-width="1.1"/>
<path d="M301.4,147.55 L303.36,151.5 L299.44,151.5 Z" fill="#fff" stroke="#000" stroke-width="1.1"/>
<g font-family="Liberation Serif" font-size="8.6" fill="#111"><text transform="translate(323.44,152.1) scale(0.65,1)">W</text><text transform="translate(329.23,152.1) scale(0.9,1)">K</text><text transform="translate(334.62,152.1) scale(1.44,1)">S</text><text transform="translate(341.16,152.1) scale(1.16,1)">E</text><text transform="translate(347.16,152.1) scale(1.18,1)">L</text><text transform="translate(353.36,152.1) scale(0.88,1)">V</text><text transform="translate(359.16,152.1) scale(1.16,1)">E</text><text transform="translate(365.36,152.1) scale(0.88,1)">V</text><text transform="translate(371.16,152.1) scale(1.16,1)">E</text><text transform="translate(377.22,152.1) scale(0.94,1)">D</text><text transform="translate(383.22,152.1) scale(0.94,1)">D</text><text transform="translate(389.36,152.1) scale(0.88,1)">V</text><text transform="translate(395.36,152.1) scale(0.9,1)">Y</text><text transform="translate(401.16,152.1) scale(1.18,1)">L</text><text transform="translate(407.21,152.1) scale(0.97,1)">R</text><text transform="translate(413.22,152.1) scale(0.93,1)">H</text></g>
<text transform="translate(474.3,153) scale(1,0.9)" font-family="Liberation Serif" font-weight="normal" font-size="9.8" fill="#000">(HB-1<tspan font-size="7" dy="2.2">18-33</tspan><tspan dy="-2.2">)</tspan></text>
<g font-family="Liberation Serif" font-weight="bold" font-size="8.8" fill="#000"><text transform="translate(329.44,244.3) scale(1.06,1)">E</text><text transform="translate(335.2,244.3) scale(0.93,1)">Q</text><text transform="translate(341.43,244.3) scale(1.13,1)">P</text><text transform="translate(347.44,244.3) scale(1.06,1)">E</text><text transform="translate(353.14,244.3) scale(1.07,1)">C</text><text transform="translate(359.47,244.3) scale(0.89,1)">R</text><text transform="translate(365.44,244.3) scale(1.06,1)">E</text><text transform="translate(371.44,244.3) scale(1.06,1)">E</text><text transform="translate(377.47,244.3) scale(0.85,1)">K</text><text transform="translate(383.47,244.3) scale(0.89,1)">R</text><text transform="translate(389.21,244.3) scale(0.91,1)">G</text><text transform="translate(394.95,244.3) scale(1.38,1)">S</text><text transform="translate(401.44,244.3) scale(1.05,1)">L</text><text transform="translate(407.47,244.3) scale(0.86,1)">H</text><text transform="translate(413.51,244.3) scale(0.91,1)">V</text><text transform="translate(419.52,244.3) scale(0.66,1)">W</text><text transform="translate(425.47,244.3) scale(0.85,1)">K</text><text transform="translate(430.95,244.3) scale(1.38,1)">S</text><text transform="translate(437.44,244.3) scale(1.06,1)">E</text><text transform="translate(443.44,244.3) scale(1.05,1)">L</text><text transform="translate(449.51,244.3) scale(0.91,1)">V</text><text transform="translate(455.44,244.3) scale(1.06,1)">E</text><text transform="translate(461.51,244.3) scale(0.91,1)">V</text></g>
<text transform="translate(473.9,245.2) scale(1,0.9)" font-family="Liberation Serif" font-weight="bold" font-size="9.8" fill="#000">(HB-1<tspan font-size="7" dy="2.2">3-25</tspan><tspan dy="-2.2">)</tspan></text>
<path d="M294.2,259.5 H314.7" stroke="#111" stroke-width="1.1"/>
<path d="M304.4,256.25 L307.3,261.85 L301.5,261.85 Z" fill="#000"/>
<g font-family="Liberation Serif" font-size="8.6" fill="#111"><text transform="translate(329.46,261.9) scale(1.16,1)">E</text><text transform="translate(335.42,261.9) scale(0.93,1)">Q</text><text transform="translate(341.44,261.9) scale(1.26,1)">P</text><text transform="translate(347.46,261.9) scale(1.16,1)">E</text><text transform="translate(353.37,261.9) scale(1.08,1)">C</text><text transform="translate(359.51,261.9) scale(0.97,1)">R</text><text transform="translate(365.46,261.9) scale(1.16,1)">E</text><text transform="translate(371.46,261.9) scale(1.16,1)">E</text><text transform="translate(377.53,261.9) scale(0.9,1)">K</text><text transform="translate(383.51,261.9) scale(0.97,1)">R</text><text transform="translate(389.42,261.9) scale(0.95,1)">G</text><text transform="translate(394.92,261.9) scale(1.44,1)">S</text><text transform="translate(401.46,261.9) scale(1.18,1)">L</text><text transform="translate(407.52,261.9) scale(0.93,1)">H</text></g>
<text transform="translate(473.9,262.8) scale(1,0.9)" font-family="Liberation Serif" font-weight="normal" font-size="9.8" fill="#000">(HB-1<tspan font-size="7" dy="2.2">3-16</tspan><tspan dy="-2.2">)</tspan></text>
<path d="M294.2,277.6 H314.7" stroke="#111" stroke-width="1.1"/>
<circle cx="304.4" cy="277.6" r="2.7" fill="#000"/>
<g font-family="Liberation Serif" font-size="8.6" fill="#111"><text transform="translate(335.42,280) scale(0.93,1)">Q</text><text transform="translate(341.44,280) scale(1.26,1)">P</text><text transform="translate(347.46,280) scale(1.16,1)">E</text><text transform="translate(353.37,280) scale(1.08,1)">C</text><text transform="translate(359.51,280) scale(0.97,1)">R</text><text transform="translate(365.46,280) scale(1.16,1)">E</text><text transform="translate(371.46,280) scale(1.16,1)">E</text><text transform="translate(377.53,280) scale(0.9,1)">K</text><text transform="translate(383.51,280) scale(0.97,1)">R</text><text transform="translate(389.42,280) scale(0.95,1)">G</text><text transform="translate(394.92,280) scale(1.44,1)">S</text><text transform="translate(401.46,280) scale(1.18,1)">L</text><text transform="translate(407.52,280) scale(0.93,1)">H</text></g>
<text transform="translate(473.9,280.9) scale(1,0.9)" font-family="Liberation Serif" font-weight="normal" font-size="9.8" fill="#000">(HB-1<tspan font-size="7" dy="2.2">4-16</tspan><tspan dy="-2.2">)</tspan></text>
<path d="M294.2,295.6 H314.7" stroke="#111" stroke-width="1.1"/>
<rect x="302.35" y="293.55" width="4.1" height="4.1" fill="#fff" stroke="#000" stroke-width="1.1"/>
<g font-family="Liberation Serif" font-size="8.6" fill="#111"><text transform="translate(335.42,298) scale(0.93,1)">Q</text><text transform="translate(341.44,298) scale(1.26,1)">P</text><text transform="translate(347.46,298) scale(1.16,1)">E</text><text transform="translate(353.37,298) scale(1.08,1)">C</text><text transform="translate(359.51,298) scale(0.97,1)">R</text><text transform="translate(365.46,298) scale(1.16,1)">E</text><text transform="translate(371.46,298) scale(1.16,1)">E</text><text transform="translate(377.53,298) scale(0.9,1)">K</text><text transform="translate(383.51,298) scale(0.97,1)">R</text><text transform="translate(389.42,298) scale(0.95,1)">G</text><text transform="translate(394.92,298) scale(1.44,1)">S</text><text transform="translate(401.46,298) scale(1.18,1)">L</text><text transform="translate(407.52,298) scale(0.93,1)">H</text><text transform="translate(413.66,298) scale(0.88,1)">V</text></g>
<text transform="translate(473.9,298.9) scale(1,0.9)" font-family="Liberation Serif" font-weight="normal" font-size="9.8" fill="#000">(HB-1<tspan font-size="7" dy="2.2">4-17</tspan><tspan dy="-2.2">)</tspan></text>
<path d="M294.2,313.6 H314.7" stroke="#111" stroke-width="1.1"/>
<path d="M304.4,311.45 L306.36,315.4 L302.44,315.4 Z" fill="#fff" stroke="#000" stroke-width="1.1"/>
<g font-family="Liberation Serif" font-size="8.6" fill="#111"><text transform="translate(359.51,316) scale(0.97,1)">R</text><text transform="translate(365.46,316) scale(1.16,1)">E</text><text transform="translate(371.46,316) scale(1.16,1)">E</text><text transform="translate(377.53,316) scale(0.9,1)">K</text><text transform="translate(383.51,316) scale(0.97,1)">R</text><text transform="translate(389.42,316) scale(0.95,1)">G</text><text transform="translate(394.92,316) scale(1.44,1)">S</text><text transform="translate(401.46,316) scale(1.18,1)">L</text><text transform="translate(407.52,316) scale(0.93,1)">H</text><text transform="translate(413.66,316) scale(0.88,1)">V</text><text transform="translate(419.74,316) scale(0.65,1)">W</text><text transform="translate(425.53,316) scale(0.9,1)">K</text><text transform="translate(430.92,316) scale(1.44,1)">S</text><text transform="translate(437.46,316) scale(1.16,1)">E</text><text transform="translate(443.46,316) scale(1.18,1)">L</text></g>
<text transform="translate(473.9,316.9) scale(1,0.9)" font-family="Liberation Serif" font-weight="normal" font-size="9.8" fill="#000">(HB-1<tspan font-size="7" dy="2.2">8-22</tspan><tspan dy="-2.2">)</tspan></text>
</svg></body></html>
